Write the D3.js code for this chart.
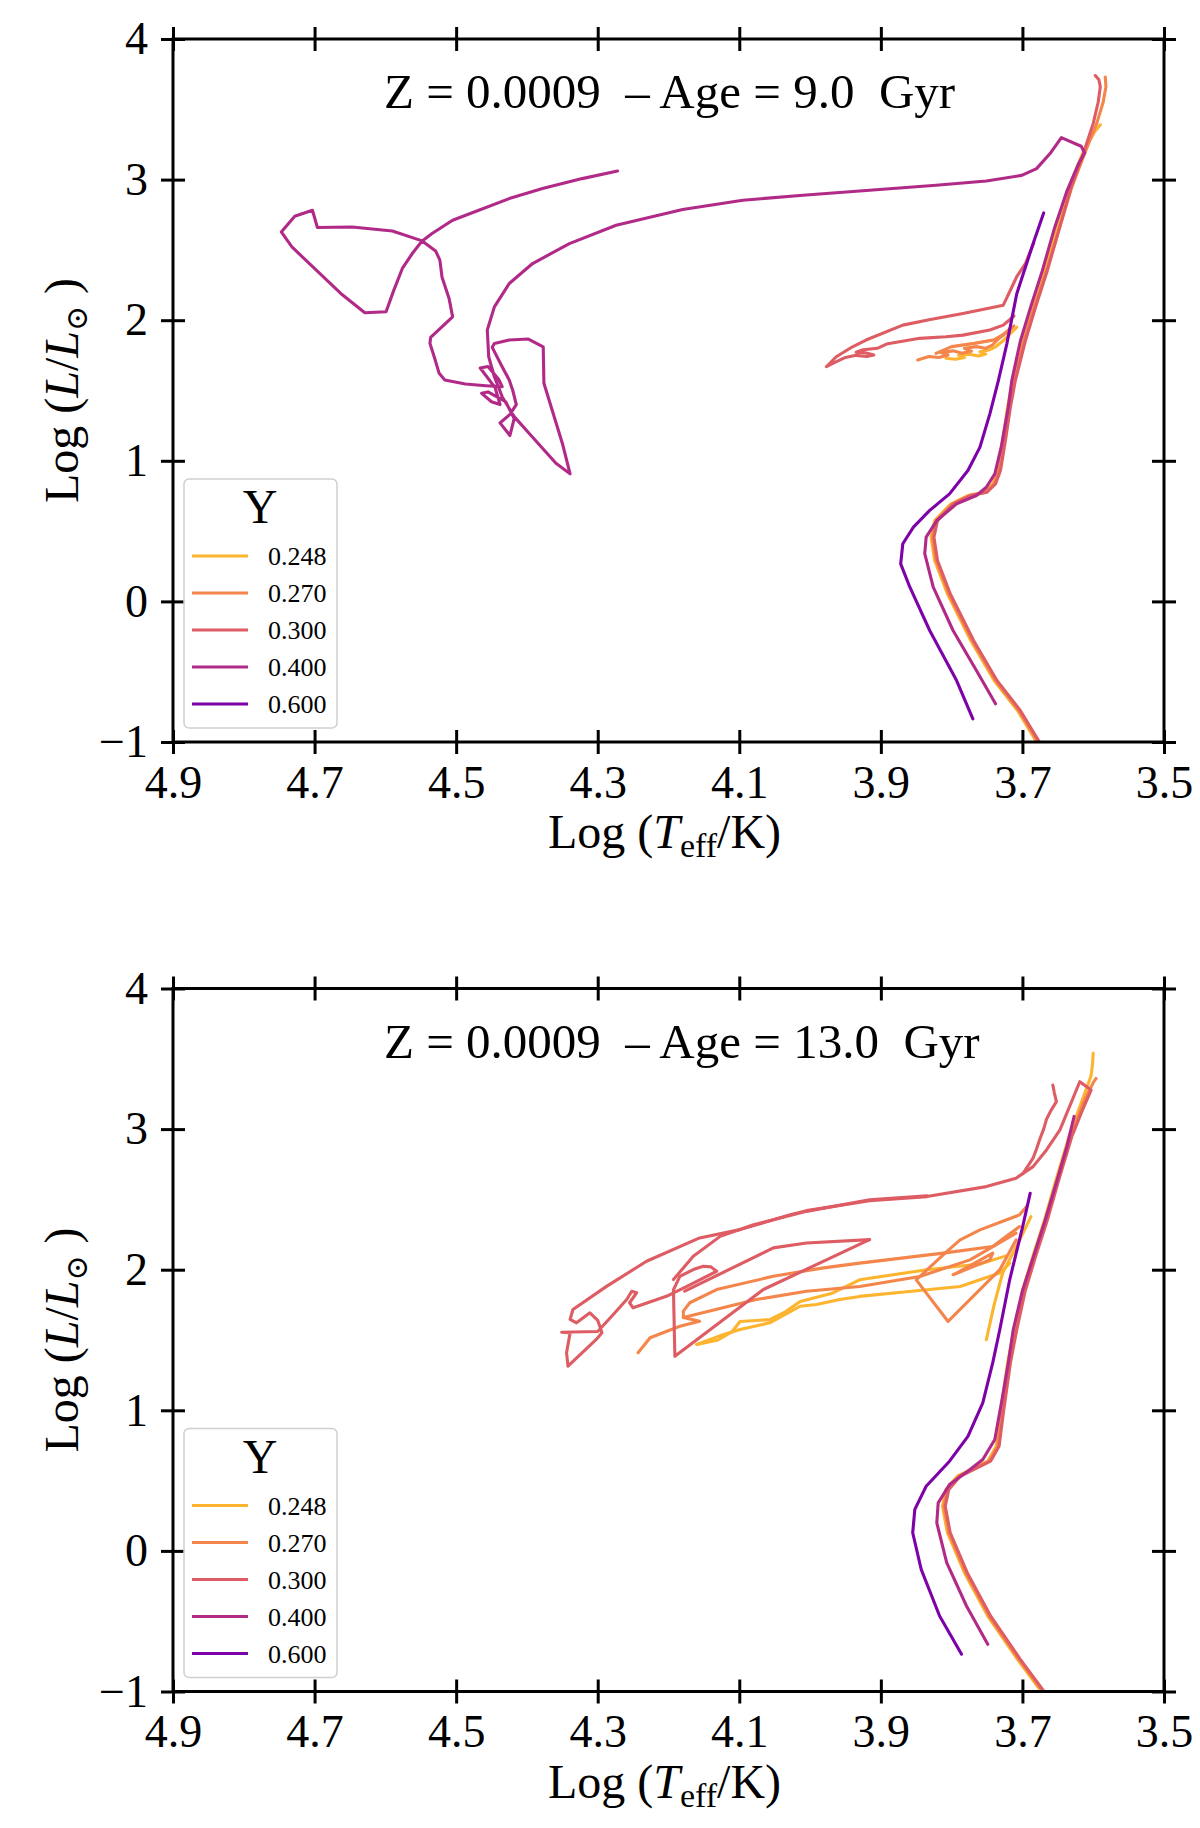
<!DOCTYPE html>
<html>
<head>
<meta charset="utf-8">
<script src="https://cdn.jsdelivr.net/npm/d3@7"></script>
<style>
  body { margin: 0; background: #fff; }
  text { font-family: "Liberation Serif", "DejaVu Serif", serif; fill: #000; }
</style>
</head>
<body>
<div id="chart"></div>
<script>

// Isochrones Z = 0.0009, two ages, five helium abundances Y
// each track is a list of segments of [logTeff, logL] points

const yLabels = ["0.248", "0.270", "0.300", "0.400", "0.600"];
const colors = ["#fdb42f", "#f4854b", "#de5c63", "#b12a88", "#7d03a8"];
const xTicks = [4.9, 4.7, 4.5, 4.3, 4.1, 3.9, 3.7, 3.5];
const yTicks = [-1, 0, 1, 2, 3, 4];
const titles = ["Z = 0.0009  \u2013 Age = 9.0  Gyr", "Z = 0.0009  \u2013 Age = 13.0  Gyr"];

// ---- 9 Gyr ----
const age9_y248 = [
  [[3.674,-1.05],[3.707,-0.776],[3.740,-0.563],[3.773,-0.278],[3.806,0.054],[3.824,0.291],[3.829,0.457],[3.824,0.575],[3.801,0.694],[3.777,0.753],[3.754,0.777],[3.742,0.836],[3.735,0.931],[3.728,1.145],[3.721,1.381],[3.714,1.571],[3.700,1.85],[3.685,2.10],[3.669,2.35],[3.652,2.65],[3.634,2.95],[3.614,3.20],[3.598,3.34],[3.590,3.39]],
  [[3.808,1.729],[3.795,1.722],[3.782,1.735],[3.790,1.750],[3.775,1.758],[3.762,1.745],[3.752,1.760],[3.760,1.775],[3.746,1.790],[3.738,1.811],[3.728,1.85],[3.718,1.90],[3.708,1.95]]
];
const age9_y270 = [
  [[3.672,-1.05],[3.705,-0.776],[3.738,-0.563],[3.771,-0.278],[3.804,0.054],[3.822,0.291],[3.827,0.457],[3.822,0.575],[3.799,0.694],[3.775,0.753],[3.752,0.777],[3.740,0.836],[3.733,0.931],[3.726,1.145],[3.719,1.381],[3.712,1.571],[3.698,1.85],[3.683,2.10],[3.666,2.35],[3.648,2.65],[3.630,2.95],[3.611,3.20],[3.595,3.40],[3.586,3.55],[3.582,3.66],[3.583,3.73]],
  [[3.848,1.717],[3.832,1.742],[3.818,1.735],[3.805,1.752],[3.815,1.770],[3.798,1.782],[3.785,1.765],[3.772,1.780],[3.782,1.800],[3.765,1.812],[3.752,1.800],[3.742,1.825],[3.735,1.862],[3.724,1.905],[3.712,1.96]],
  [[3.822,1.764],[3.800,1.812],[3.768,1.835],[3.740,1.860],[3.728,1.895],[3.715,1.95]]
];
const age9_y300 = [
  [[3.670,-1.05],[3.703,-0.776],[3.736,-0.563],[3.769,-0.278],[3.802,0.054],[3.820,0.291],[3.825,0.457],[3.820,0.575],[3.797,0.694],[3.773,0.753],[3.750,0.777],[3.738,0.836],[3.731,0.931],[3.724,1.145],[3.717,1.381],[3.710,1.571],[3.696,1.85],[3.681,2.10],[3.665,2.35],[3.648,2.65],[3.631,2.95],[3.613,3.20],[3.600,3.40],[3.593,3.55],[3.590,3.66],[3.592,3.71],[3.597,3.74]],
  [[3.684,2.55],[3.696,2.40],[3.708,2.31],[3.727,2.107],[3.784,2.048],[3.830,2.005],[3.869,1.965],[3.921,1.859],[3.940,1.811],[3.963,1.740],[3.977,1.669],[3.965,1.700],[3.950,1.735],[3.935,1.750],[3.920,1.742],[3.910,1.752],[3.922,1.768],[3.935,1.772],[3.925,1.790],[3.905,1.800],[3.892,1.830],[3.880,1.842],[3.845,1.871],[3.808,1.882],[3.784,1.894],[3.746,1.930],[3.727,1.965],[3.712,2.03]]
];
const age9_y400 = [
  [[3.738,-0.728],[3.765,-0.491],[3.798,-0.207],[3.826,0.101],[3.838,0.339],[3.836,0.457],[3.821,0.575],[3.793,0.694],[3.765,0.753],[3.751,0.812],[3.739,0.907],[3.730,1.097],[3.720,1.381],[3.715,1.571],[3.703,1.85],[3.688,2.10],[3.672,2.35],[3.655,2.65],[3.637,2.92],[3.620,3.12],[3.612,3.19],
   [3.617,3.237],[3.645,3.298],[3.661,3.185],[3.680,3.078],[3.701,3.030],[3.751,2.990],[3.822,2.960],[3.916,2.924],[4.010,2.889],[4.095,2.853],[4.180,2.787],[4.274,2.675],[4.340,2.545],[4.392,2.403],[4.425,2.261],[4.446,2.095],[4.456,1.930],[4.454,1.740],[4.446,1.598],[4.435,1.456],[4.418,1.314],[4.397,1.196],[4.359,0.983],[4.339,0.907],[4.350,1.125],[4.376,1.551],[4.377,1.811],[4.398,1.866],[4.425,1.859],[4.446,1.835],[4.449,1.807],[4.435,1.669],[4.425,1.575],
   [4.420,1.50],[4.415,1.40],[4.424,1.33],[4.438,1.27],[4.424,1.18],[4.418,1.30],[4.430,1.42],[4.455,1.49],[4.464,1.48],[4.450,1.42],[4.438,1.40],[4.445,1.52],[4.466,1.66],[4.455,1.67],[4.440,1.58],[4.435,1.527],
   [4.458,1.534],[4.487,1.546],[4.516,1.575],[4.524,1.622],[4.531,1.740],[4.537,1.835],[4.536,1.878],[4.505,2.024],[4.510,2.155],[4.520,2.308],[4.523,2.427],[4.529,2.493],[4.548,2.564],[4.590,2.635],[4.647,2.663],[4.696,2.659],[4.703,2.782],[4.728,2.739],[4.747,2.628],[4.732,2.521],[4.663,2.190],[4.629,2.053],[4.599,2.060],[4.588,2.214],[4.576,2.368],[4.562,2.474],[4.548,2.564],[4.534,2.617],[4.505,2.711],[4.468,2.782],[4.425,2.865],[4.378,2.936],[4.322,3.007],[4.272,3.061]]
];
const age9_y600 = [
  [[3.770,-0.835],[3.793,-0.563],[3.831,-0.207],[3.859,0.101],[3.872,0.267],[3.869,0.410],[3.854,0.528],[3.831,0.647],[3.803,0.765],[3.777,0.931],[3.760,1.097],[3.746,1.334],[3.734,1.571],[3.722,1.832],[3.708,2.188],[3.685,2.543],[3.670,2.763]]
];

// ---- 13 Gyr ----
const age13_y248 = [
  [[3.667,-1.05],[3.674,-0.996],[3.707,-0.771],[3.749,-0.463],[3.782,-0.155],[3.806,0.129],[3.813,0.318],[3.808,0.437],[3.792,0.531],[3.768,0.591],[3.749,0.638],[3.737,0.744],[3.731,0.981],[3.721,1.337],[3.712,1.573],[3.700,1.85],[3.685,2.10],[3.669,2.35],[3.652,2.65],[3.634,2.95],[3.616,3.20],[3.603,3.38],[3.601,3.46],[3.600,3.54]],
  [[4.160,1.468],[4.123,1.538],[4.099,1.575],[4.057,1.622],[4.014,1.740],[3.991,1.752],[3.958,1.788],[3.930,1.810],[3.860,1.845],[3.788,1.881],[3.732,1.976],[3.718,2.047]],
  [[4.160,1.468],[4.130,1.500],[4.110,1.560],[4.099,1.632],[4.057,1.645],[4.035,1.700],[4.014,1.774],[3.970,1.830],[3.930,1.928],[3.835,2.000],[3.760,2.040],[3.722,2.10]],
  [[3.751,1.502],[3.740,1.75],[3.728,1.976],[3.705,2.20],[3.688,2.378]]
];
const age13_y270 = [
  [[3.665,-1.05],[3.672,-0.996],[3.705,-0.771],[3.747,-0.463],[3.780,-0.155],[3.804,0.129],[3.811,0.318],[3.806,0.437],[3.790,0.531],[3.766,0.591],[3.747,0.638],[3.735,0.744],[3.729,0.981],[3.719,1.337],[3.710,1.573],[3.698,1.85],[3.683,2.10],[3.667,2.35],[3.650,2.65],[3.631,2.95],[3.613,3.20],[3.600,3.33],[3.596,3.36]],
  [[4.243,1.409],[4.226,1.516],[4.184,1.598],[4.156,1.634],[4.179,1.660],[4.179,1.705],[4.170,1.765],[4.132,1.859],[4.052,1.953],[3.981,2.013],[3.930,2.047],[3.812,2.118],[3.742,2.165],[3.704,2.307]],
  [[4.179,1.660],[4.076,1.788],[4.005,1.847],[3.930,1.881],[3.845,1.952],[3.774,2.070],[3.709,2.260]],
  [[3.694,2.449],[3.704,2.390],[3.760,2.283],[3.788,2.212],[3.807,2.129],[3.850,1.928],[3.805,1.632],[3.732,2.000],[3.709,2.212]],
  [[3.793,1.976],[3.742,2.118],[3.746,2.070],[3.798,1.964],[3.793,1.976]]
];
const age13_y300 = [
  [[3.663,-1.05],[3.670,-0.996],[3.703,-0.771],[3.745,-0.463],[3.778,-0.155],[3.802,0.129],[3.809,0.318],[3.804,0.437],[3.788,0.531],[3.764,0.591],[3.745,0.638],[3.733,0.744],[3.727,0.981],[3.717,1.337],[3.708,1.573],[3.696,1.85],[3.681,2.10],[3.665,2.35],[3.648,2.65],[3.630,2.95],[3.614,3.15],[3.603,3.278],
   [3.619,3.337],[3.647,2.994],[3.666,2.852],[3.685,2.733],[3.709,2.651],[3.751,2.591],[3.835,2.520],[3.916,2.490],[4.005,2.420],[4.028,2.391],[4.099,2.285],[4.156,2.226],[4.231,2.060],[4.287,1.883],[4.335,1.717],[4.339,1.646],[4.330,1.622],[4.311,1.693],[4.300,1.640],[4.294,1.551],[4.302,1.504],[4.342,1.314],[4.344,1.409],[4.339,1.551],[4.351,1.555],[4.300,1.560],[4.278,1.681],[4.259,1.788],[4.252,1.847],[4.245,1.836],[4.255,1.765],[4.250,1.729],[4.203,1.811],[4.174,1.882],[4.132,1.989],[4.140,2.020],[4.151,2.024],[4.165,2.001],[4.184,1.953],[4.193,1.857],[4.191,1.385],[4.066,1.859],[3.916,2.214]],
  [[3.916,2.214],[4.005,2.190],[4.052,2.155],[4.177,1.847]],
  [[4.193,1.930],[4.165,2.095],[4.127,2.237],[4.080,2.320],[4.005,2.415],[3.916,2.498],[3.835,2.525]],
  [[3.699,2.686],[3.685,2.793],[3.680,2.86],[3.675,2.935],[3.670,3.00],[3.666,3.07],[3.660,3.13],[3.652,3.195],[3.655,3.26],[3.657,3.313]]
];
const age13_y400 = [
  [[3.749,-0.664],[3.779,-0.392],[3.807,-0.084],[3.821,0.200],[3.819,0.342],[3.803,0.472],[3.774,0.579],[3.756,0.650],[3.739,0.792],[3.728,1.100],[3.720,1.337],[3.713,1.573],[3.700,1.85],[3.684,2.10],[3.668,2.35],[3.652,2.62],[3.637,2.88],[3.627,3.09]]
];
const age13_y600 = [
  [[3.786,-0.735],[3.817,-0.463],[3.843,-0.131],[3.855,0.129],[3.852,0.295],[3.836,0.460],[3.803,0.638],[3.777,0.815],[3.756,1.053],[3.742,1.337],[3.732,1.573],[3.718,1.928],[3.700,2.30],[3.689,2.544]]
];

const panels = [
  {title: titles[0], tracks: [age9_y248, age9_y270, age9_y300, age9_y400, age9_y600]},
  {title: titles[1], tracks: [age13_y248, age13_y270, age13_y300, age13_y400, age13_y600]}
];

// Layout
const width = 1200;
const height = 1828;
const margin = {left: 173, right: 36};
const panelTops = [39, 988.5];
const pw = width - margin.left - margin.right;
const ph = 703;
const tickLen = 12;
const fontTick = "46px";

const svg = d3.select("#chart")
  .append("svg")
  .attr("width", width)
  .attr("height", height);

const x = d3.scaleLinear().domain([4.9, 3.5]).range([0, pw]);
const y = d3.scaleLinear().domain([-1, 4]).range([ph, 0]);

const line = d3.line()
  .x(d => x(d[0]))
  .y(d => y(d[1]));

svg.append("defs").append("clipPath")
  .attr("id", "plot-clip")
  .append("rect")
  .attr("width", pw)
  .attr("height", ph);

// styles the tick marks so they cross the spine (in and out)
function styleAxis(a, attr1, val1) {
  a.select(".domain").remove();
  a.selectAll(".tick line")
    .attr(attr1, val1)
    .attr("stroke", "#000")
    .attr("stroke-width", 3);
  a.selectAll(".tick text")
    .attr("font-size", fontTick)
    .attr("font-family", "Liberation Serif, DejaVu Serif, serif")
    .attr("fill", "#000");
}

panels.forEach((p, pi) => {
  const g = svg.append("g")
    .attr("transform", `translate(${margin.left},${panelTops[pi]})`);

  // curves
  const plot = g.append("g").attr("clip-path", "url(#plot-clip)");
  p.tracks.forEach((segs, i) => {
    plot.selectAll(null)
      .data(segs)
      .enter()
      .append("path")
        .attr("d", line)
        .attr("fill", "none")
        .attr("stroke", colors[i])
        .attr("stroke-width", 3.1)
        .attr("stroke-linejoin", "round")
        .attr("stroke-linecap", "round");
  });

  // axes
  g.append("g")
    .attr("transform", `translate(0,${ph})`)
    .call(d3.axisBottom(x).tickValues(xTicks).tickFormat(d3.format(".1f"))
            .tickSize(tickLen).tickPadding(11))
    .call(a => styleAxis(a, "y1", -tickLen));

  g.append("g")
    .call(d3.axisTop(x).tickValues(xTicks).tickFormat(() => "").tickSize(tickLen))
    .call(a => styleAxis(a, "y1", tickLen));

  g.append("g")
    .call(d3.axisLeft(y).tickValues(yTicks).tickFormat(d3.format("d"))
            .tickSize(tickLen).tickPadding(13))
    .call(a => styleAxis(a, "x1", tickLen));

  g.append("g")
    .attr("transform", `translate(${pw},0)`)
    .call(d3.axisRight(y).tickValues(yTicks).tickFormat(() => "").tickSize(tickLen))
    .call(a => styleAxis(a, "x1", -tickLen));

  g.append("rect")
    .attr("width", pw)
    .attr("height", ph)
    .attr("fill", "none")
    .attr("stroke", "#000")
    .attr("stroke-width", 3);

  // title inside the frame, starts at the same x in both panels
  g.append("text")
    .attr("x", 211)
    .attr("y", 69)
    .attr("text-anchor", "start")
    .attr("font-size", "49px")
    .style("white-space", "pre")
    .text(p.title);

  // x label
  const xl = g.append("text")
    .attr("x", pw / 2 - 4)
    .attr("y", ph + 106)
    .attr("text-anchor", "middle")
    .attr("font-size", "48px");
  xl.append("tspan").text("Log (");
  xl.append("tspan").attr("font-style", "italic").text("T");
  xl.append("tspan").attr("font-size", "34px").attr("dy", 9).text("eff");
  xl.append("tspan").attr("dy", -9).text("/K)");

  // y label
  const yl = g.append("text")
    .attr("transform", `translate(${78 - margin.left},${ph / 2}) rotate(-90)`)
    .attr("text-anchor", "middle")
    .attr("font-size", "48px");
  yl.append("tspan").text("Log (");
  yl.append("tspan").attr("font-style", "italic").text("L");
  yl.append("tspan").text("/");
  yl.append("tspan").attr("font-style", "italic").text("L");
  yl.append("tspan").attr("font-size", "30px").attr("dy", 9).attr("font-family", "DejaVu Serif").text("\u2299");
  yl.append("tspan").attr("dy", -9).text(" )");

  // legend
  const lg = g.append("g").attr("transform", `translate(${184 - margin.left},${440})`);
  lg.append("rect")
    .attr("width", 153)
    .attr("height", 249)
    .attr("rx", 5)
    .attr("fill", "#fff")
    .attr("fill-opacity", 0.8)
    .attr("stroke", "#d0d0d0")
    .attr("stroke-width", 1.5);
  lg.append("text")
    .attr("x", 76)
    .attr("y", 44)
    .attr("text-anchor", "middle")
    .attr("font-size", "48px")
    .text("Y");
  const rows = lg.selectAll(".row")
    .data(yLabels)
    .enter()
    .append("g")
      .attr("class", "row")
      .attr("transform", (d, i) => `translate(0,${77 + i * 37})`);
  rows.append("line")
    .attr("x1", 8).attr("x2", 64)
    .attr("stroke", (d, i) => colors[i])
    .attr("stroke-width", 3);
  rows.append("text")
    .attr("x", 84)
    .attr("y", 9)
    .attr("font-size", "26px")
    .text(d => d);
});

</script>
</body>
</html>
